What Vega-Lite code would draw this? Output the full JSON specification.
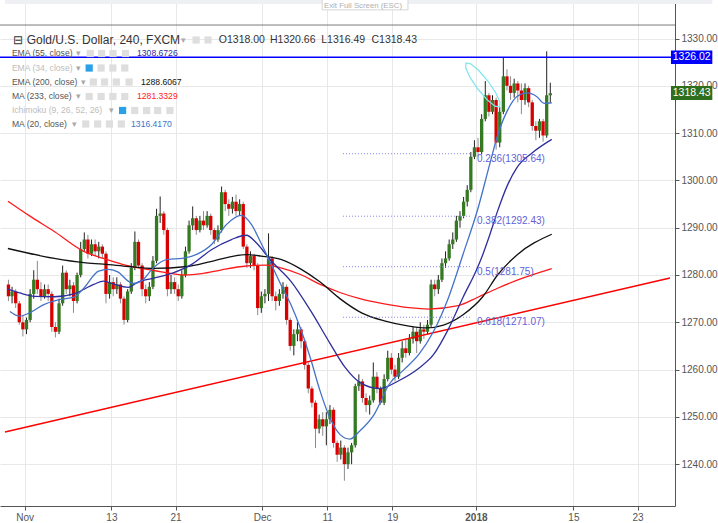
{
"$schema":"https://vega.github.io/schema/vega-lite/v6.json",
"width":675,"height":506,
"autosize":{"type":"none"},
"padding":{"left":0,"top":0,"right":43,"bottom":17},
"background":"#ffffff",
"config":{"view":{"stroke":null},"font":"Liberation Sans","axis":{"title":null}},
"resolve":{"scale":{"color":"independent"}},
"datasets":{
"candles":[
{"x":-9,"o":1278,"h":1279,"l":1274.5,"c":1275.5},
{"x":-7,"o":1275.5,"h":1277.5,"l":1274,"c":1276.5},
{"x":-5,"o":1276.5,"h":1277,"l":1273,"c":1274},
{"x":-3,"o":1274,"h":1274.5,"l":1269.5,"c":1270},
{"x":-1,"o":1270,"h":1271.5,"l":1267,"c":1268.5},
{"x":1,"o":1268.5,"h":1271,"l":1267.5,"c":1270.5},
{"x":3,"o":1270.5,"h":1277,"l":1270,"c":1276},
{"x":5,"o":1276,"h":1281,"l":1275,"c":1279},
{"x":7,"o":1279,"h":1283,"l":1276,"c":1277},
{"x":9,"o":1277,"h":1278.5,"l":1274.5,"c":1275.5},
{"x":11,"o":1275.5,"h":1278,"l":1275,"c":1277},
{"x":13,"o":1277,"h":1278,"l":1274.5,"c":1276},
{"x":15,"o":1276,"h":1276.5,"l":1268,"c":1269},
{"x":17,"o":1269,"h":1270,"l":1266.8,"c":1268},
{"x":19,"o":1268,"h":1275,"l":1267.5,"c":1274},
{"x":21,"o":1274,"h":1282,"l":1273.5,"c":1280.5},
{"x":23,"o":1280.5,"h":1281,"l":1276,"c":1277},
{"x":25,"o":1277,"h":1279,"l":1275.5,"c":1277.8},
{"x":27,"o":1277.8,"h":1278.5,"l":1272,"c":1274.5},
{"x":29,"o":1274.5,"h":1280.5,"l":1274,"c":1280},
{"x":31,"o":1280,"h":1287,"l":1279.5,"c":1285.5},
{"x":33,"o":1285.5,"h":1289,"l":1285,"c":1287.5},
{"x":35,"o":1287.5,"h":1288.5,"l":1283.5,"c":1284.5},
{"x":37,"o":1284.5,"h":1287.5,"l":1284,"c":1286.5},
{"x":39,"o":1286.5,"h":1287.5,"l":1284,"c":1285},
{"x":41,"o":1285,"h":1287,"l":1283.5,"c":1286},
{"x":43,"o":1286,"h":1286.5,"l":1283.5,"c":1284.5},
{"x":45,"o":1284.5,"h":1285,"l":1274,"c":1276},
{"x":47,"o":1276,"h":1280,"l":1275,"c":1278.5},
{"x":49,"o":1278.5,"h":1279.5,"l":1275.5,"c":1277},
{"x":51,"o":1277,"h":1279.5,"l":1276,"c":1278},
{"x":53,"o":1278,"h":1278.5,"l":1274,"c":1275},
{"x":55,"o":1275,"h":1275.5,"l":1269.5,"c":1270.5},
{"x":57,"o":1270.5,"h":1277,"l":1270,"c":1276.5},
{"x":59,"o":1276.5,"h":1282.5,"l":1276,"c":1281.5},
{"x":61,"o":1281.5,"h":1289.2,"l":1281,"c":1287},
{"x":63,"o":1287,"h":1287.5,"l":1281.5,"c":1282},
{"x":65,"o":1282,"h":1282.5,"l":1275.5,"c":1277},
{"x":67,"o":1277,"h":1278,"l":1274,"c":1275.5},
{"x":69,"o":1275.5,"h":1278.5,"l":1274.5,"c":1277.5},
{"x":71,"o":1277.5,"h":1284,"l":1277,"c":1283},
{"x":73,"o":1283,"h":1294,"l":1282.5,"c":1292.5},
{"x":75,"o":1292.5,"h":1296.6,"l":1291,"c":1293},
{"x":77,"o":1293,"h":1293.5,"l":1288.5,"c":1289.5},
{"x":79,"o":1289.5,"h":1290,"l":1275.5,"c":1277},
{"x":81,"o":1277,"h":1280,"l":1276,"c":1278.5},
{"x":83,"o":1278.5,"h":1279.5,"l":1276,"c":1277},
{"x":85,"o":1277,"h":1278,"l":1274.5,"c":1275.5},
{"x":87,"o":1275.5,"h":1281,"l":1275,"c":1280},
{"x":89,"o":1280,"h":1286,"l":1279.5,"c":1285},
{"x":91,"o":1285,"h":1291.5,"l":1284.5,"c":1290.5},
{"x":93,"o":1290.5,"h":1294.5,"l":1289.5,"c":1292},
{"x":95,"o":1292,"h":1292.5,"l":1288.5,"c":1289.5},
{"x":97,"o":1289.5,"h":1292.5,"l":1289,"c":1291.5},
{"x":99,"o":1291.5,"h":1293.5,"l":1289.5,"c":1290.5},
{"x":101,"o":1290.5,"h":1293.5,"l":1290,"c":1292.5},
{"x":103,"o":1292.5,"h":1293,"l":1288.5,"c":1289.5},
{"x":105,"o":1289.5,"h":1290,"l":1286.5,"c":1287.5},
{"x":107,"o":1287.5,"h":1290.5,"l":1287,"c":1289.5},
{"x":109,"o":1289.5,"h":1298.7,"l":1289,"c":1297.5},
{"x":111,"o":1297.5,"h":1298,"l":1293.5,"c":1295},
{"x":113,"o":1295,"h":1296,"l":1292.5,"c":1294},
{"x":115,"o":1294,"h":1296.5,"l":1293,"c":1295.5},
{"x":117,"o":1295.5,"h":1297,"l":1292.5,"c":1293.5},
{"x":119,"o":1293.5,"h":1296,"l":1292.5,"c":1295},
{"x":121,"o":1295,"h":1295.5,"l":1285.5,"c":1286},
{"x":123,"o":1286,"h":1286.5,"l":1281.5,"c":1282.5},
{"x":125,"o":1282.5,"h":1285,"l":1281.5,"c":1284},
{"x":127,"o":1284,"h":1284.5,"l":1281,"c":1282},
{"x":129,"o":1282,"h":1282.5,"l":1271.5,"c":1273},
{"x":131,"o":1273,"h":1276.5,"l":1272,"c":1275.5},
{"x":133,"o":1275.5,"h":1277,"l":1274,"c":1276},
{"x":135,"o":1276,"h":1288.8,"l":1274.5,"c":1283.5},
{"x":137,"o":1283.5,"h":1284,"l":1274.5,"c":1275.5},
{"x":139,"o":1275.5,"h":1276.5,"l":1272.5,"c":1274.5},
{"x":141,"o":1274.5,"h":1277,"l":1273.5,"c":1276},
{"x":143,"o":1276,"h":1278.5,"l":1275,"c":1277.5},
{"x":145,"o":1277.5,"h":1278,"l":1269.5,"c":1270.5},
{"x":147,"o":1270.5,"h":1271,"l":1264,"c":1265},
{"x":149,"o":1265,"h":1268.5,"l":1263,"c":1267.5},
{"x":151,"o":1267.5,"h":1270,"l":1266,"c":1268.5},
{"x":153,"o":1268.5,"h":1269,"l":1264.5,"c":1266},
{"x":155,"o":1266,"h":1266.5,"l":1260,"c":1261},
{"x":157,"o":1261,"h":1261.5,"l":1255,"c":1256},
{"x":159,"o":1256,"h":1256.5,"l":1252,"c":1253},
{"x":161,"o":1253,"h":1253.5,"l":1243.4,"c":1247.5},
{"x":163,"o":1247.5,"h":1250.5,"l":1246.5,"c":1249.5},
{"x":165,"o":1249.5,"h":1251,"l":1246,"c":1248},
{"x":167,"o":1248,"h":1251,"l":1244,"c":1249.5},
{"x":169,"o":1249.5,"h":1252.5,"l":1248.5,"c":1251.5},
{"x":171,"o":1251.5,"h":1252,"l":1243.5,"c":1244.5},
{"x":173,"o":1244.5,"h":1245,"l":1240.5,"c":1242},
{"x":175,"o":1242,"h":1245,"l":1241,"c":1243.5},
{"x":177,"o":1243.5,"h":1244,"l":1236.5,"c":1240},
{"x":179,"o":1240,"h":1243.5,"l":1239,"c":1242.5},
{"x":181,"o":1242.5,"h":1244.5,"l":1240,"c":1244},
{"x":183,"o":1244,"h":1257,"l":1243.5,"c":1256.5},
{"x":185,"o":1256.5,"h":1259,"l":1255.5,"c":1257.5},
{"x":187,"o":1257.5,"h":1258,"l":1253,"c":1254},
{"x":189,"o":1254,"h":1255,"l":1251,"c":1252.5},
{"x":191,"o":1252.5,"h":1254.5,"l":1250.5,"c":1253.5},
{"x":193,"o":1253.5,"h":1261.5,"l":1253,"c":1258.5},
{"x":195,"o":1258.5,"h":1259.5,"l":1255,"c":1256},
{"x":197,"o":1256,"h":1256.5,"l":1252.5,"c":1253},
{"x":199,"o":1253,"h":1259,"l":1252.5,"c":1258},
{"x":201,"o":1258,"h":1264,"l":1257.5,"c":1262.5},
{"x":203,"o":1262.5,"h":1263.5,"l":1259,"c":1260},
{"x":205,"o":1260,"h":1261,"l":1257.5,"c":1258.5},
{"x":207,"o":1258.5,"h":1263.5,"l":1258,"c":1262.5},
{"x":209,"o":1262.5,"h":1266,"l":1261.5,"c":1264.5},
{"x":211,"o":1264.5,"h":1266.5,"l":1262.5,"c":1263.5},
{"x":213,"o":1263.5,"h":1267.5,"l":1263,"c":1266.5},
{"x":215,"o":1266.5,"h":1269,"l":1265.5,"c":1268},
{"x":217,"o":1268,"h":1269,"l":1263.5,"c":1266},
{"x":219,"o":1266,"h":1270,"l":1265.5,"c":1268.5},
{"x":221,"o":1268.5,"h":1269.5,"l":1266.5,"c":1268},
{"x":223,"o":1268,"h":1270.5,"l":1267.5,"c":1269.5},
{"x":225,"o":1269.5,"h":1279,"l":1269,"c":1278},
{"x":227,"o":1278,"h":1279,"l":1275.5,"c":1277},
{"x":229,"o":1277,"h":1280,"l":1276,"c":1279},
{"x":231,"o":1279,"h":1283.5,"l":1278.5,"c":1282.5},
{"x":233,"o":1282.5,"h":1285,"l":1281.5,"c":1283.5},
{"x":235,"o":1283.5,"h":1287.5,"l":1283,"c":1286.5},
{"x":237,"o":1286.5,"h":1289,"l":1285.5,"c":1287.5},
{"x":239,"o":1287.5,"h":1292.5,"l":1287,"c":1291.5},
{"x":241,"o":1291.5,"h":1293.5,"l":1290,"c":1292.5},
{"x":243,"o":1292.5,"h":1296.5,"l":1292,"c":1295.5},
{"x":245,"o":1295.5,"h":1299,"l":1294.5,"c":1298},
{"x":247,"o":1298,"h":1306,"l":1297.5,"c":1305},
{"x":249,"o":1305,"h":1308.5,"l":1304.5,"c":1307},
{"x":251,"o":1307,"h":1309,"l":1305,"c":1306},
{"x":253,"o":1306,"h":1314,"l":1305.5,"c":1313},
{"x":255,"o":1313,"h":1321,"l":1312.5,"c":1318},
{"x":257,"o":1318,"h":1318.5,"l":1313.5,"c":1314.5},
{"x":259,"o":1314.5,"h":1318,"l":1314,"c":1317},
{"x":261,"o":1317,"h":1317.5,"l":1306.5,"c":1308},
{"x":263,"o":1308,"h":1315.5,"l":1307,"c":1314.5},
{"x":265,"o":1314.5,"h":1326,"l":1314,"c":1322},
{"x":267,"o":1322,"h":1323.5,"l":1319,"c":1320},
{"x":269,"o":1320,"h":1322,"l":1317,"c":1318.5},
{"x":271,"o":1318.5,"h":1321.5,"l":1317.5,"c":1320.5},
{"x":273,"o":1320.5,"h":1321,"l":1316.5,"c":1319},
{"x":275,"o":1319,"h":1320.5,"l":1314,"c":1317},
{"x":277,"o":1317,"h":1320.5,"l":1316,"c":1319.5},
{"x":279,"o":1319.5,"h":1320,"l":1315.5,"c":1316.5},
{"x":281,"o":1316.5,"h":1317,"l":1310.5,"c":1311.5},
{"x":283,"o":1311.5,"h":1312.5,"l":1308.5,"c":1310.5},
{"x":285,"o":1310.5,"h":1313,"l":1309,"c":1312.5},
{"x":287,"o":1312.5,"h":1313,"l":1308.2,"c":1309.5},
{"x":289,"o":1309.5,"h":1327.3,"l":1309,"c":1318},
{"x":291,"o":1318,"h":1320.66,"l":1316.49,"c":1318.43}
],
"ma":[
{"s":"m233","x":-9.3,"y":1295.6},{"s":"m233","x":2.7,"y":1292.5},{"s":"m233","x":16.4,"y":1289.2},{"s":"m233","x":32.7,"y":1285.0},{"s":"m233","x":43.6,"y":1283.5},{"s":"m233","x":54.5,"y":1282.2},{"s":"m233","x":70.9,"y":1281.0},{"s":"m233","x":88.9,"y":1280.0},{"s":"m233","x":98.2,"y":1280.3},{"s":"m233","x":109.1,"y":1281.1},{"s":"m233","x":122.7,"y":1281.9},{"s":"m233","x":133.6,"y":1282.1},{"s":"m233","x":141.8,"y":1281.5},{"s":"m233","x":152.7,"y":1280.1},{"s":"m233","x":163.6,"y":1278.0},{"s":"m233","x":174.5,"y":1276.3},{"s":"m233","x":185.5,"y":1275.0},{"s":"m233","x":199.1,"y":1273.9},{"s":"m233","x":212.7,"y":1273.1},{"s":"m233","x":223.6,"y":1272.8},{"s":"m233","x":240.0,"y":1273.5},{"s":"m233","x":250.9,"y":1275.3},{"s":"m233","x":261.8,"y":1277.2},{"s":"m233","x":272.7,"y":1278.9},{"s":"m233","x":291.8,"y":1281.33},
{"s":"e200","x":-9.3,"y":1285.6},{"s":"e200","x":16.4,"y":1283.5},{"s":"e200","x":32.7,"y":1282.6},{"s":"e200","x":43.6,"y":1282.3},{"s":"e200","x":57.3,"y":1281.8},{"s":"e200","x":70.9,"y":1281.4},{"s":"e200","x":90.0,"y":1281.8},{"s":"e200","x":103.6,"y":1282.9},{"s":"e200","x":122.7,"y":1284.3},{"s":"e200","x":130.9,"y":1284.0},{"s":"e200","x":141.8,"y":1283.3},{"s":"e200","x":152.7,"y":1281.3},{"s":"e200","x":163.6,"y":1278.5},{"s":"e200","x":174.5,"y":1275.0},{"s":"e200","x":186.5,"y":1272.0},{"s":"e200","x":199.1,"y":1270.3},{"s":"e200","x":212.7,"y":1269.2},{"s":"e200","x":222.5,"y":1268.8},{"s":"e200","x":231.8,"y":1269.4},{"s":"e200","x":242.7,"y":1271.6},{"s":"e200","x":253.6,"y":1275.4},{"s":"e200","x":261.8,"y":1280.0},{"s":"e200","x":272.7,"y":1284.3},{"s":"e200","x":291.8,"y":1288.61},
{"s":"e55","x":-9.3,"y":1277.0},{"s":"e55","x":-2.7,"y":1276.2},{"s":"e55","x":5.5,"y":1275.5},{"s":"e55","x":16.4,"y":1275.4},{"s":"e55","x":27.3,"y":1276.0},{"s":"e55","x":38.2,"y":1278.0},{"s":"e55","x":43.6,"y":1278.7},{"s":"e55","x":49.1,"y":1278.1},{"s":"e55","x":57.3,"y":1277.4},{"s":"e55","x":62.7,"y":1278.5},{"s":"e55","x":70.9,"y":1279.3},{"s":"e55","x":81.8,"y":1280.4},{"s":"e55","x":92.7,"y":1282.3},{"s":"e55","x":103.6,"y":1285.4},{"s":"e55","x":114.5,"y":1287.5},{"s":"e55","x":122.7,"y":1288.4},{"s":"e55","x":128.2,"y":1286.8},{"s":"e55","x":136.4,"y":1283.0},{"s":"e55","x":147.3,"y":1278.7},{"s":"e55","x":158.2,"y":1272.5},{"s":"e55","x":169.1,"y":1265.5},{"s":"e55","x":177.3,"y":1260.5},{"s":"e55","x":185.5,"y":1257.3},{"s":"e55","x":196.4,"y":1256.0},{"s":"e55","x":207.3,"y":1257.7},{"s":"e55","x":218.2,"y":1260.3},{"s":"e55","x":226.4,"y":1263.2},{"s":"e55","x":234.5,"y":1268.5},{"s":"e55","x":242.7,"y":1275.3},{"s":"e55","x":249.8,"y":1280.8},{"s":"e55","x":253.6,"y":1284.3},{"s":"e55","x":257.5,"y":1288.5},{"s":"e55","x":261.8,"y":1293.5},{"s":"e55","x":267.3,"y":1299.0},{"s":"e55","x":272.7,"y":1302.8},{"s":"e55","x":280.9,"y":1305.8},{"s":"e55","x":291.8,"y":1308.67},
{"s":"m20","x":-8.2,"y":1272.3},{"s":"m20","x":-2.7,"y":1271.3},{"s":"m20","x":2.7,"y":1272.0},{"s":"m20","x":10.9,"y":1273.8},{"s":"m20","x":19.1,"y":1274.8},{"s":"m20","x":27.3,"y":1275.3},{"s":"m20","x":32.7,"y":1277.2},{"s":"m20","x":40.9,"y":1280.8},{"s":"m20","x":46.4,"y":1281.2},{"s":"m20","x":51.8,"y":1280.6},{"s":"m20","x":57.3,"y":1278.7},{"s":"m20","x":60.0,"y":1278.2},{"s":"m20","x":65.5,"y":1279.0},{"s":"m20","x":70.9,"y":1281.4},{"s":"m20","x":79.1,"y":1283.3},{"s":"m20","x":87.3,"y":1283.5},{"s":"m20","x":95.5,"y":1284.4},{"s":"m20","x":103.6,"y":1286.5},{"s":"m20","x":111.8,"y":1290.7},{"s":"m20","x":120.0,"y":1292.6},{"s":"m20","x":125.5,"y":1290.7},{"s":"m20","x":130.9,"y":1286.7},{"s":"m20","x":136.4,"y":1282.3},{"s":"m20","x":141.8,"y":1278.0},{"s":"m20","x":147.3,"y":1273.8},{"s":"m20","x":152.7,"y":1268.7},{"s":"m20","x":158.2,"y":1262.4},{"s":"m20","x":163.6,"y":1255.4},{"s":"m20","x":169.1,"y":1249.7},{"s":"m20","x":174.5,"y":1246.3},{"s":"m20","x":180.0,"y":1245.3},{"s":"m20","x":185.5,"y":1247.0},{"s":"m20","x":193.6,"y":1250.6},{"s":"m20","x":201.8,"y":1256.9},{"s":"m20","x":210.0,"y":1260.0},{"s":"m20","x":218.2,"y":1263.2},{"s":"m20","x":226.4,"y":1268.1},{"s":"m20","x":234.5,"y":1275.1},{"s":"m20","x":242.7,"y":1284.4},{"s":"m20","x":250.9,"y":1294.0},{"s":"m20","x":257.5,"y":1303.5},{"s":"m20","x":261.8,"y":1309.5},{"s":"m20","x":267.3,"y":1314.8},{"s":"m20","x":272.7,"y":1317.8},{"s":"m20","x":278.2,"y":1318.5},{"s":"m20","x":283.6,"y":1317.7},{"s":"m20","x":287.5,"y":1316.3},{"s":"m20","x":291.8,"y":1316.42}
],
"fib":[
{"x":176.2,"x2":247.1,"y":1305.64,"t":"0.236(1305.64)"},
{"x":176.2,"x2":247.1,"y":1292.43,"t":"0.382(1292.43)"},
{"x":176.2,"x2":247.1,"y":1281.75,"t":"0.5(1281.75)"},
{"x":176.2,"x2":247.1,"y":1271.07,"t":"0.618(1271.07)"}
],
"ellipse":[
{"o":0,"x":262.96,"y":1315.48},{"o":1,"x":260.35,"y":1315.69},{"o":2,"x":255.87,"y":1317.10},{"o":3,"x":250.85,"y":1319.32},{"o":4,"x":246.55,"y":1321.78},{"o":5,"x":244.15,"y":1323.81},{"o":6,"x":244.31,"y":1324.84},{"o":7,"x":246.93,"y":1324.65},{"o":8,"x":251.40,"y":1323.23},{"o":9,"x":256.42,"y":1321.01},{"o":10,"x":260.73,"y":1318.56},{"o":11,"x":263.13,"y":1316.53},{"o":12,"x":262.96,"y":1315.48}
],
"legendRows":[
{"x":-7.1,"y":1326.83,"t":"EMA (55, close)","k":"on"},
{"x":-7.1,"y":1323.76,"t":"EMA (34, close)","k":"off"},
{"x":-7.1,"y":1320.80,"t":"EMA (200, close)","k":"on"},
{"x":-7.1,"y":1317.74,"t":"MA (233, close)","k":"on"},
{"x":-7.1,"y":1314.78,"t":"Ichimoku (9, 26, 52, 26)","k":"off"},
{"x":-7.1,"y":1311.92,"t":"MA (20, close)","k":"on"},
{"x":28.4,"y":1326.83,"t":"▾","k":"arr"},
{"x":28.4,"y":1323.76,"t":"▾","k":"arr"},
{"x":31.1,"y":1320.80,"t":"▾","k":"arr"},
{"x":28.4,"y":1317.74,"t":"▾","k":"arr"},
{"x":46.4,"y":1314.78,"t":"▾","k":"arr"},
{"x":26.2,"y":1311.92,"t":"▾","k":"arr"},
{"x":86.7,"y":1329.68,"t":"▾","k":"arr"},
{"x":62.2,"y":1326.83,"t":"1308.6726","k":"e55"},
{"x":64.4,"y":1320.80,"t":"1288.6067","k":"e200"},
{"x":62.2,"y":1317.74,"t":"1281.3329","k":"m233"},
{"x":58.9,"y":1311.92,"t":"1316.4170","k":"m20"}
],
"icons":[
{"x":94.9,"y":1329.68,"k":"g"},{"x":101.5,"y":1329.68,"k":"g"},
{"x":36.3,"y":1326.83,"k":"g"},{"x":42.6,"y":1326.83,"k":"g"},{"x":48.9,"y":1326.83,"k":"g"},{"x":55.8,"y":1326.83,"k":"g"},
{"x":35.7,"y":1323.76,"k":"b"},{"x":42.3,"y":1323.76,"k":"g"},{"x":48.8,"y":1323.76,"k":"g"},{"x":55.4,"y":1323.76,"k":"g"},
{"x":38.0,"y":1320.80,"k":"g"},{"x":44.2,"y":1320.80,"k":"g"},{"x":50.7,"y":1320.80,"k":"g"},{"x":57.8,"y":1320.80,"k":"g"},
{"x":35.7,"y":1317.74,"k":"g"},{"x":42.3,"y":1317.74,"k":"g"},{"x":48.8,"y":1317.74,"k":"g"},{"x":55.4,"y":1317.74,"k":"g"},
{"x":54.2,"y":1314.78,"k":"b"},{"x":60.9,"y":1314.78,"k":"g"},{"x":67.5,"y":1314.78,"k":"g"},{"x":73.6,"y":1314.78,"k":"g"},{"x":80.4,"y":1314.78,"k":"g"},
{"x":33.8,"y":1311.92,"k":"g"},{"x":40.4,"y":1311.92,"k":"g"},{"x":46.9,"y":1311.92,"k":"g"},{"x":53.5,"y":1311.92,"k":"g"}
],
"boxes":[
{"x":357.8,"x2":380.7,"y":1327.46,"y2":1324.6,"k":"b","t":"1326.02","xm":369.3,"ym":1326.02},
{"x":357.8,"x2":380.7,"y":1319.96,"y2":1317.0,"k":"g","t":"1318.43","xm":369.3,"ym":1318.48}
]
},
"layer":[
{"data":{"values":[{"x":-10.91,"x2":380.7,"y":1338.14,"y2":1337.3}]},
 "mark":{"type":"rect","color":"#eef0f4"},
 "encoding":{
  "x":{"field":"x","type":"quantitative","scale":{"domain":[-10.91,357.27],"nice":false,"zero":false},
   "axis":{"values":[0,48,83.5,131.5,167.5,203.5,249.8,303.8,339.3],
    "labelExpr":"['Nov','13','21','Dec','11','19','2018','15','23'][indexof([0,48,83.5,131.5,167.5,203.5,249.8,303.8,339.3], datum.value)]",
    "labelFontWeight":{"condition":{"test":"datum.value == 249.8","value":"bold"},"value":"normal"},
    "title":null,"grid":true,"gridColor":"#e8e8e8","domainColor":"#555555","tickColor":"#555555","tickSize":4,
    "labelColor":"#555555","labelFontSize":10,"labelPadding":2,"labelFlush":false,"labelOverlap":false}},
  "x2":{"field":"x2"},
  "y":{"field":"y","type":"quantitative","scale":{"domain":[1231.16,1338.14],"nice":false,"zero":false},
   "axis":{"orient":"right","values":[1240,1250,1260,1270,1280,1290,1300,1310,1320,1330],"format":".2f",
    "title":null,"grid":true,"gridColor":"#e8e8e8","domainColor":"#555555","tickColor":"#555555","tickSize":4,
    "labelColor":"#555555","labelFontSize":10,"labelPadding":2,"labelFlush":false}},
  "y2":{"field":"y2"}}},
{"data":{"values":[{"y":1332.85}]},
 "mark":{"type":"rule","color":"#7a7a7a","strokeWidth":1},
 "encoding":{"y":{"field":"y","type":"quantitative"}}},
{"data":{"values":[{"x":164.7,"x2":212.2,"y":1338.3,"y2":1336.05}]},
 "mark":{"type":"rect","fill":"#ffffff","stroke":"#d6d6d6","strokeWidth":1},
 "encoding":{"x":{"field":"x","type":"quantitative"},"x2":{"field":"x2"},"y":{"field":"y","type":"quantitative"},"y2":{"field":"y2"}}},
{"data":{"values":[{"x":187.3,"y":1336.95,"t":"Exit Full Screen (ESC)"}]},
 "mark":{"type":"text","fontSize":7.8,"color":"#b0b0b0","align":"center","baseline":"middle"},
 "encoding":{"x":{"field":"x","type":"quantitative"},"y":{"field":"y","type":"quantitative"},"text":{"field":"t"}}},
{"data":{"name":"candles"},
 "mark":{"type":"rule","strokeWidth":1},
 "encoding":{"x":{"field":"x","type":"quantitative"},"y":{"field":"l","type":"quantitative"},"y2":{"field":"h"},
  "color":{"condition":{"test":"datum.c >= datum.o","value":"#222222"},"value":"#8c8c8c"}}},
{"data":{"name":"candles"},
 "mark":{"type":"bar","width":3.3},
 "encoding":{"x":{"field":"x","type":"quantitative"},"y":{"field":"o","type":"quantitative"},"y2":{"field":"c"},
  "color":{"condition":{"test":"datum.c >= datum.o","value":"#357a22"},"value":"#d80000"}}},
{"data":{"values":[{"x":-10.91,"x2":357.27,"y":1246.81,"y2":1279.37}]},
 "mark":{"type":"rule","color":"#ff0000","strokeWidth":1.5},
 "encoding":{"x":{"field":"x","type":"quantitative"},"x2":{"field":"x2"},"y":{"field":"y","type":"quantitative"},"y2":{"field":"y2"}}},
{"data":{"name":"ma"},
 "mark":{"type":"line","strokeWidth":1.3,"interpolate":"monotone"},
 "encoding":{"x":{"field":"x","type":"quantitative"},"y":{"field":"y","type":"quantitative"},
  "color":{"field":"s","type":"nominal","legend":null,"scale":{"domain":["m233","e200","e55","m20"],"range":["#ff1a1a","#111111","#2e2e9e","#4472c8"]}}}},
{"data":{"values":[{"y":1326.02}]},
 "mark":{"type":"rule","color":"#0000ff","strokeWidth":1.5},
 "encoding":{"y":{"field":"y","type":"quantitative"}}},
{"data":{"name":"fib"},
 "mark":{"type":"rule","color":"#8080ee","strokeWidth":1,"strokeDash":[1,2]},
 "encoding":{"x":{"field":"x","type":"quantitative"},"x2":{"field":"x2"},"y":{"field":"y","type":"quantitative"}}},
{"data":{"name":"fib"},
 "mark":{"type":"text","fontSize":10,"color":"#5f5fd8","align":"left","baseline":"middle","dy":5,"dx":6},
 "encoding":{"x":{"field":"x2","type":"quantitative"},"y":{"field":"y","type":"quantitative"},"text":{"field":"t"}}},
{"data":{"name":"ellipse"},
 "mark":{"type":"line","color":"#7de6ef","strokeWidth":1.2},
 "encoding":{"x":{"field":"x","type":"quantitative"},"y":{"field":"y","type":"quantitative"},"order":{"field":"o","type":"quantitative"}}},
{"data":{"values":[{"x":-6.5,"y":1329.68,"t":"⊟"},{"x":1.1,"y":1329.68,"t":"Gold/U.S. Dollar, 240, FXCM"}]},
 "mark":{"type":"text","fontSize":12,"color":"#333333","align":"left","baseline":"middle"},
 "encoding":{"x":{"field":"x","type":"quantitative"},"y":{"field":"y","type":"quantitative"},"text":{"field":"t"}}},
{"data":{"values":[{"x":107.45,"y":1329.68,"t":"O1318.00"},{"x":135.8,"y":1329.68,"t":"H1320.66"},{"x":164.2,"y":1329.68,"t":"L1316.49"},{"x":192.0,"y":1329.68,"t":"C1318.43"}]},
 "mark":{"type":"text","fontSize":10.5,"color":"#333333","align":"left","baseline":"middle"},
 "encoding":{"x":{"field":"x","type":"quantitative"},"y":{"field":"y","type":"quantitative"},"text":{"field":"t"}}},
{"data":{"name":"icons"},
 "mark":{"type":"point","shape":"square","filled":true,"size":52,"opacity":1},
 "encoding":{"x":{"field":"x","type":"quantitative"},"y":{"field":"y","type":"quantitative"},
  "color":{"field":"k","type":"nominal","legend":null,"scale":{"domain":["g","b"],"range":["#dedede","#2aa0e6"]}}}},
{"data":{"name":"legendRows"},
 "mark":{"type":"text","fontSize":8.6,"align":"left","baseline":"middle"},
 "encoding":{"x":{"field":"x","type":"quantitative"},"y":{"field":"y","type":"quantitative"},"text":{"field":"t"},
  "color":{"field":"k","type":"nominal","legend":null,"scale":{"domain":["on","off","arr","e55","e200","m233","m20"],"range":["#555555","#bdbdbd","#aaaaaa","#2e2e9e","#111111","#ff1a1a","#4472c8"]}}}},
{"data":{"name":"boxes"},
 "mark":{"type":"rect"},
 "encoding":{"x":{"field":"x","type":"quantitative"},"x2":{"field":"x2"},"y":{"field":"y","type":"quantitative"},"y2":{"field":"y2"},
  "color":{"field":"k","type":"nominal","legend":null,"scale":{"domain":["b","g"],"range":["#0000ff","#2f6e1c"]}}}},
{"data":{"name":"boxes"},
 "mark":{"type":"text","fontSize":10.5,"color":"#ffffff","align":"center","baseline":"middle"},
 "encoding":{"x":{"field":"xm","type":"quantitative"},"y":{"field":"ym","type":"quantitative"},"text":{"field":"t"}}}
]
}
